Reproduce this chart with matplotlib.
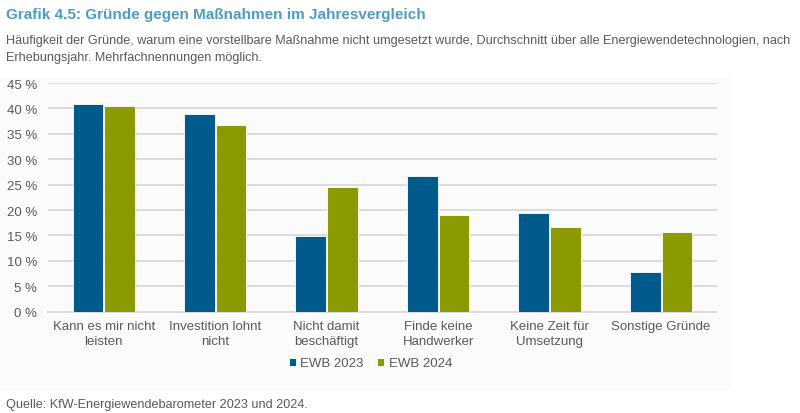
import matplotlib
matplotlib.use("Agg")
import matplotlib.pyplot as plt
import numpy as np
from matplotlib.patches import Rectangle

categories = ["Kann es mir nicht\nleisten", "Investition lohnt\nnicht", "Nicht damit\nbeschäftigt",
              "Finde keine\nHandwerker", "Keine Zeit für\nUmsetzung", "Sonstige Gründe"]
ewb_2023 = [40.8, 38.9, 14.9, 26.8, 19.4, 7.9]
ewb_2024 = [40.5, 36.7, 24.5, 19.0, 16.6, 15.6]
series_labels = ["EWB 2023", "EWB 2024"]
yticks = [0, 5, 10, 15, 20, 25, 30, 35, 40, 45]

BLUE = "#005a8c"
GREEN = "#8a9a00"
TEXT = "#595959"
GRID = "#dcdcdc"
TITLE = "#4d9cc6"

plt.rcParams["font.family"] = ["Liberation Sans", "DejaVu Sans"]

fig = plt.figure(figsize=(8, 4.14), dpi=100)

# faint panel behind the chart
fig.patches.append(Rectangle((0.0, 0.053), 0.915, 0.755, transform=fig.transFigure,
                             facecolor="#fbfbfb", edgecolor="none", zorder=-10))

ax = fig.add_axes([0.06, 0.2447, 0.836, 0.5523])
ax.set_facecolor("none")
ax.set_zorder(1)

x = np.arange(len(categories))
w = 0.275
ax.bar(x - w / 2 - 0.005, ewb_2023, w, color=BLUE, edgecolor="white", linewidth=0.6,
       label=series_labels[0], zorder=3)
ax.bar(x + w / 2 + 0.005, ewb_2024, w, color=GREEN, edgecolor="white", linewidth=0.6,
       label=series_labels[1], zorder=3)

ax.set_xlim(-0.5, 5.5)
ax.set_ylim(0, 45)
ax.set_yticks(yticks)
ax.set_yticklabels([f"{t} %" for t in yticks])
ax.set_xticks(x)
ax.set_xticklabels(categories, linespacing=1.3)
ax.yaxis.grid(True, color=GRID, linewidth=1.4, zorder=0)
ax.set_axisbelow(True)
for s in ["top", "right", "left"]:
    ax.spines[s].set_visible(False)
ax.spines["bottom"].set_color(GRID)
ax.spines["bottom"].set_linewidth(1.4)
ax.tick_params(axis="both", length=0, labelsize=9.5, labelcolor=TEXT)
ax.tick_params(axis="x", pad=6)
ax.tick_params(axis="y", pad=8)

leg = fig.legend(loc="center", bbox_to_anchor=(0.463, 0.12), ncol=2, frameon=False,
                 fontsize=9.5, handlelength=0.55, handleheight=0.55, handletextpad=0.35,
                 columnspacing=1.0)
for t in leg.get_texts():
    t.set_color(TEXT)

fig.text(0.008, 0.963, "Grafik 4.5: Gründe gegen Maßnahmen im Jahresvergleich",
         fontsize=11, fontweight="bold", color=TITLE, va="center")
fig.text(0.008, 0.9, "Häufigkeit der Gründe, warum eine vorstellbare Maßnahme nicht umgesetzt wurde, "
         "Durchschnitt über alle Energiewendetechnologien, nach", fontsize=9.1, color=TEXT, va="center")
fig.text(0.008, 0.861, "Erhebungsjahr. Mehrfachnennungen möglich.", fontsize=9.1, color=TEXT,
         va="center")
fig.text(0.008, 0.022, "Quelle: KfW-Energiewendebarometer 2023 und 2024.", fontsize=9.1,
         color=TEXT, va="center")

fig.savefig("out.png", dpi=100)
